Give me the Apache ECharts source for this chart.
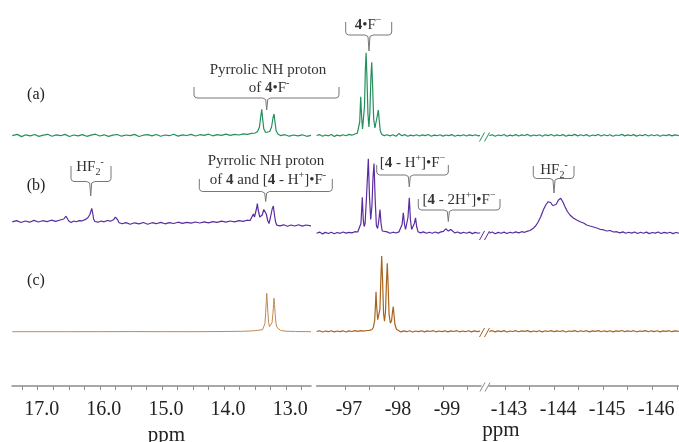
<!DOCTYPE html>
<html>
<head>
<meta charset="utf-8">
<script src="https://cdn.jsdelivr.net/npm/echarts@6/dist/echarts.min.js"></script>
<style>
html, body { margin: 0; padding: 0; background: #fff; }
#chart { width: 679px; height: 442px; }
</style>
</head>
<body>
<div id="chart"></div>
<script>
// axis ticks and labels (ppm)
var leftTicks = [17.25, 17, 16.75, 16.5, 16.25, 16, 15.75, 15.5, 15.25, 15, 14.75, 14.5, 14.25, 14, 13.75, 13.5, 13.25, 13, 12.75];
var leftLabels = [17, 16, 15, 14, 13];
var midTicks = [-97, -97.5, -98, -98.5, -99, -99.5];
var midLabels = [-97, -98, -99];
var rightTicks = [-143, -143.5, -144, -144.5, -145, -145.5, -146, -146.5];
var rightLabels = [-143, -144, -145, -146];

// spectrum (a) : [ppm, intensity above its baseline]
var specA_1H = [[17.41,0.4],[17.33,1.6],[17.26,-0.6],[17.19,1.2],[17.12,0.1],[17.05,1.5],[16.98,-0.4],[16.91,0.9],[16.84,1.7],[16.77,-0.2],[16.70,1.1],[16.63,0.3],[16.56,1.6],[16.49,-0.5],[16.42,1.0],[16.35,0.2],[16.28,1.4],[16.21,-0.3],[16.14,0.8],[16.07,1.8],[16.00,0.0],[15.93,1.2],[15.86,-0.4],[15.79,0.9],[15.72,1.5],[15.65,-0.2],[15.58,1.0],[15.51,0.4],[15.44,1.6],[15.37,-0.5],[15.30,0.8],[15.23,1.3],[15.16,0.1],[15.09,1.5],[15.02,-0.3],[14.95,1.0],[14.88,0.3],[14.81,1.7],[14.74,-0.1],[14.67,1.1],[14.60,0.5],[14.53,1.6],[14.46,0.0],[14.39,1.3],[14.32,0.6],[14.25,1.8],[14.18,0.2],[14.11,1.4],[14.04,0.7],[13.97,1.9],[13.90,0.6],[13.83,1.6],[13.76,1.0],[13.69,2.1],[13.62,1.6],[13.56,2.6],[13.50,3.0],[13.46,4.5],[13.43,9],[13.41,19],[13.393,26.7],[13.378,17],[13.36,7],[13.33,3.5],[13.30,3],[13.265,4.5],[13.235,9],[13.212,18],[13.195,22],[13.178,13],[13.16,5],[13.13,1.8],[13.09,0.4],[13.02,1.3],[12.95,-0.2],[12.88,1.0],[12.81,0.2],[12.74,1.2],[12.67,-0.3],[12.60,0.6]];
var specA_F1 = [[-96.42,0.5],[-96.48,1.4],[-96.54,-0.3],[-96.60,1.0],[-96.66,0.2],[-96.72,1.5],[-96.78,-0.4],[-96.84,0.9],[-96.90,0.1],[-96.96,1.3],[-97.02,0.3],[-97.08,1.6],[-97.14,0.8],[-97.20,2.0],[-97.25,2.6],[-97.28,4],[-97.30,14],[-97.32,39.3],[-97.338,20],[-97.358,7],[-97.378,8],[-97.398,30],[-97.415,66],[-97.43,83.3],[-97.447,60],[-97.468,22],[-97.488,9],[-97.508,24],[-97.528,58],[-97.545,73.7],[-97.562,52],[-97.585,17],[-97.61,8],[-97.638,10],[-97.662,21],[-97.68,26],[-97.698,16],[-97.72,5],[-97.75,1.5],[-97.80,0.4],[-97.86,1.3],[-97.92,0.1],[-97.98,1.2],[-98.04,-0.2],[-98.10,2.4],[-98.16,0.3],[-98.22,1.4],[-98.28,-0.3],[-98.34,0.9],[-98.40,0.2],[-98.46,1.3],[-98.52,0.0],[-98.58,1.1],[-98.64,0.4],[-98.70,1.5],[-98.76,-0.2],[-98.82,0.9],[-98.88,0.3],[-98.94,1.2],[-99.00,-0.1],[-99.06,1.0],[-99.12,0.4],[-99.18,1.4],[-99.24,-0.3],[-99.30,0.8],[-99.36,0.2],[-99.42,1.3],[-99.48,0.0],[-99.54,1.1],[-99.60,0.3],[-99.66,1.2],[-99.72,0.1],[-99.755,0.6]];
var specA_F2 = [[-142.68,0.4],[-142.74,1.3],[-142.80,-0.2],[-142.86,1.0],[-142.92,0.3],[-142.98,1.5],[-143.04,-0.3],[-143.10,0.9],[-143.16,0.2],[-143.22,1.4],[-143.28,0.0],[-143.34,1.1],[-143.40,0.5],[-143.46,1.6],[-143.52,-0.1],[-143.58,1.0],[-143.64,0.3],[-143.70,1.3],[-143.76,-0.2],[-143.82,1.2],[-143.88,0.4],[-143.94,1.5],[-144.00,0.0],[-144.06,1.1],[-144.12,0.2],[-144.18,1.4],[-144.24,-0.3],[-144.30,0.9],[-144.36,0.4],[-144.42,1.6],[-144.48,0.1],[-144.54,1.2],[-144.60,0.3],[-144.66,1.4],[-144.72,-0.2],[-144.78,1.0],[-144.84,0.4],[-144.90,1.5],[-144.96,0.0],[-145.02,1.2],[-145.08,0.2],[-145.14,1.3],[-145.20,-0.2],[-145.26,1.0],[-145.32,0.5],[-145.38,1.6],[-145.44,0.1],[-145.50,1.1],[-145.56,0.3],[-145.62,1.4],[-145.68,-0.1],[-145.74,1.0],[-145.80,0.4],[-145.86,1.5],[-145.92,0.0],[-145.98,1.2],[-146.04,0.2],[-146.10,1.3],[-146.16,-0.2],[-146.22,1.0],[-146.28,0.4],[-146.34,1.4],[-146.40,0.1],[-146.46,1.1],[-146.54,0.4]];

// spectrum (b)
var specB_1H = [[17.41,2.2],[17.34,3.4],[17.27,1.5],[17.20,3.0],[17.13,1.8],[17.06,3.6],[16.99,2.0],[16.92,3.3],[16.85,2.4],[16.78,3.8],[16.71,2.6],[16.64,4.0],[16.58,5.0],[16.545,7.8],[16.525,6.5],[16.50,3.0],[16.46,1.6],[16.42,3.0],[16.38,2.2],[16.33,3.4],[16.28,3.2],[16.23,4.6],[16.19,6.5],[16.16,9.5],[16.14,13.5],[16.13,15.7],[16.115,11],[16.10,5],[16.08,2.5],[16.03,1.8],[15.98,3.0],[15.93,2.2],[15.88,3.5],[15.83,2.8],[15.78,4.2],[15.75,6.8],[15.735,8],[15.715,4.5],[15.69,1.2],[15.64,0.2],[15.58,1.4],[15.51,-0.3],[15.44,1.2],[15.37,0.1],[15.30,1.5],[15.23,-0.2],[15.16,1.3],[15.09,0.3],[15.02,1.6],[14.95,0.2],[14.88,1.4],[14.81,0.5],[14.74,1.8],[14.67,0.6],[14.60,1.6],[14.53,0.8],[14.46,2.0],[14.39,1.0],[14.32,2.2],[14.25,1.2],[14.18,2.4],[14.11,1.6],[14.04,2.8],[13.97,1.9],[13.90,3.0],[13.83,2.2],[13.76,3.4],[13.69,2.6],[13.63,3.8],[13.58,3.5],[13.55,5],[13.528,10],[13.51,7],[13.49,9],[13.475,16],[13.464,20.3],[13.45,14],[13.425,7],[13.404,6],[13.385,9],[13.36,14.5],[13.34,16.3],[13.32,10],[13.295,3],[13.276,0.5],[13.255,6],[13.225,15],[13.206,18],[13.188,9],[13.17,2],[13.15,-1.2],[13.10,-1.8],[13.04,-0.8],[12.98,-2.2],[12.92,-1.0],[12.86,-2.0],[12.80,-0.7],[12.74,-2.1],[12.68,-1.0],[12.60,-1.8]];
var specB_F1 = [[-96.42,0.3],[-96.48,1.4],[-96.54,-0.4],[-96.60,1.1],[-96.66,0.0],[-96.72,1.3],[-96.78,-0.2],[-96.84,1.0],[-96.90,0.2],[-96.96,1.5],[-97.02,0.4],[-97.08,1.2],[-97.14,0.6],[-97.20,1.8],[-97.26,1.5],[-97.30,3],[-97.325,10],[-97.353,36.3],[-97.372,14],[-97.39,7],[-97.41,10],[-97.44,38],[-97.476,74.7],[-97.50,36],[-97.525,14],[-97.55,28],[-97.57,55],[-97.592,70],[-97.615,35],[-97.64,8],[-97.665,5],[-97.69,13],[-97.714,24],[-97.735,10],[-97.76,2.5],[-97.80,0.6],[-97.86,1.6],[-97.92,0.2],[-97.98,1.3],[-98.04,0.5],[-98.10,1.6],[-98.14,3],[-98.165,9],[-98.19,20.7],[-98.212,10],[-98.235,4],[-98.26,5],[-98.285,16],[-98.312,35.7],[-98.335,14],[-98.36,4],[-98.39,4],[-98.415,10],[-98.44,15.7],[-98.462,7],[-98.49,1.8],[-98.54,0.6],[-98.60,1.6],[-98.66,0.2],[-98.72,1.3],[-98.78,0.3],[-98.84,1.5],[-98.90,0.4],[-98.96,1.6],[-99.01,2.2],[-99.035,3.5],[-99.055,4.7],[-99.08,2.8],[-99.11,2.4],[-99.135,3.4],[-99.16,4],[-99.19,2.0],[-99.24,0.6],[-99.30,1.5],[-99.36,0.1],[-99.42,1.2],[-99.48,0.3],[-99.54,1.4],[-99.60,-0.1],[-99.66,1.1],[-99.72,0.2],[-99.76,0.8]];
var specB_F2 = [[-142.68,0.4],[-142.74,1.5],[-142.80,-0.3],[-142.86,1.1],[-142.92,0.2],[-142.98,1.4],[-143.04,0.0],[-143.10,1.2],[-143.16,0.5],[-143.22,1.6],[-143.28,0.6],[-143.34,1.8],[-143.40,1.2],[-143.46,2.4],[-143.51,3.0],[-143.576,5.2],[-143.63,8],[-143.678,11.8],[-143.73,17],[-143.78,23.5],[-143.83,28.5],[-143.88,31.8],[-143.93,31],[-143.97,28],[-144.0,26.8],[-144.04,29],[-144.09,33.5],[-144.134,35.2],[-144.18,31.5],[-144.222,26.8],[-144.27,22],[-144.324,18.5],[-144.39,15.5],[-144.46,13.5],[-144.53,11.8],[-144.60,10.5],[-144.664,8.5],[-144.73,7.5],[-144.80,6.5],[-144.87,5.5],[-144.935,4.2],[-145.00,3.8],[-145.07,2.5],[-145.14,3.0],[-145.21,1.5],[-145.275,1.8],[-145.34,0.6],[-145.40,1.6],[-145.46,0.2],[-145.52,1.3],[-145.58,0.4],[-145.64,1.5],[-145.70,0.0],[-145.76,1.2],[-145.82,0.3],[-145.88,1.4],[-145.94,-0.1],[-146.00,1.0],[-146.06,0.4],[-146.12,1.5],[-146.18,0.0],[-146.24,1.1],[-146.30,0.3],[-146.36,1.3],[-146.42,-0.1],[-146.48,1.0],[-146.54,0.3]];

// spectrum (c)
var specC_1H = [[17.41,0],[16.5,0],[15.5,0.1],[14.5,0],[14.0,0.2],[13.7,0.4],[13.55,0.8],[13.45,1.4],[13.38,2],[13.355,4],[13.342,8],[13.33,19],[13.32,30],[13.312,38.4],[13.304,30],[13.294,19],[13.282,9],[13.268,5],[13.2535,3],[13.24,5],[13.227,9],[13.213,18],[13.203,27],[13.195,33.4],[13.187,27],[13.177,18],[13.165,9],[13.15,4.5],[13.13,2.5],[13.09,1.2],[13.0,0.5],[12.85,0.2],[12.6,0]];
var specC_F1 = [[-96.42,0.2],[-96.48,0.9],[-96.54,-0.3],[-96.60,0.7],[-96.66,0.0],[-96.72,1.0],[-96.78,-0.2],[-96.84,0.7],[-96.90,0.1],[-96.96,0.9],[-97.02,-0.3],[-97.08,0.8],[-97.14,0.2],[-97.20,1.0],[-97.26,0.3],[-97.32,1.0],[-97.38,0.5],[-97.44,1.2],[-97.50,1.3],[-97.55,2.2],[-97.58,4.5],[-97.605,11],[-97.62,25],[-97.633,40],[-97.647,25],[-97.667,12],[-97.69,10],[-97.712,22],[-97.733,55],[-97.749,75.7],[-97.765,54],[-97.787,18],[-97.806,10.5],[-97.826,20],[-97.847,50],[-97.863,68.4],[-97.879,48],[-97.9,17],[-97.925,8.5],[-97.95,11],[-97.972,21],[-97.986,25],[-98.0,17],[-98.02,7],[-98.05,2.4],[-98.09,0.6],[-98.14,-0.2],[-98.20,0.8],[-98.26,0.0],[-98.32,0.9],[-98.38,-0.3],[-98.44,0.7],[-98.50,0.1],[-98.56,0.9],[-98.62,-0.2],[-98.68,0.8],[-98.74,0.2],[-98.80,1.0],[-98.86,-0.1],[-98.92,0.7],[-98.98,0.1],[-99.04,0.9],[-99.10,-0.2],[-99.16,0.8],[-99.22,0.2],[-99.28,1.0],[-99.34,-0.1],[-99.40,0.7],[-99.46,0.0],[-99.52,0.9],[-99.58,-0.2],[-99.64,0.8],[-99.70,0.1],[-99.755,0.6]];
var specC_F2 = [[-142.68,0.3],[-142.74,1.0],[-142.80,-0.2],[-142.86,0.8],[-142.92,0.1],[-142.98,1.1],[-143.04,-0.3],[-143.10,0.7],[-143.16,0.2],[-143.22,1.0],[-143.28,-0.1],[-143.34,0.8],[-143.40,0.3],[-143.46,1.1],[-143.52,-0.2],[-143.58,0.7],[-143.64,0.1],[-143.70,1.0],[-143.76,-0.2],[-143.82,0.9],[-143.88,0.2],[-143.94,1.1],[-144.00,0.0],[-144.06,0.8],[-144.12,0.2],[-144.18,1.0],[-144.24,-0.3],[-144.30,0.7],[-144.36,0.3],[-144.42,1.1],[-144.48,0.0],[-144.54,0.9],[-144.60,0.2],[-144.66,1.0],[-144.72,-0.2],[-144.78,0.8],[-144.84,0.3],[-144.90,1.1],[-144.96,0.0],[-145.02,0.9],[-145.08,0.1],[-145.14,1.0],[-145.20,-0.2],[-145.26,0.8],[-145.32,0.4],[-145.38,1.2],[-145.44,0.0],[-145.50,0.8],[-145.56,0.2],[-145.62,1.0],[-145.68,-0.1],[-145.74,0.7],[-145.80,0.3],[-145.86,1.1],[-145.92,0.0],[-145.98,0.9],[-146.04,0.1],[-146.10,1.0],[-146.16,-0.2],[-146.22,0.8],[-146.28,0.3],[-146.34,1.0],[-146.40,0.0],[-146.46,0.8],[-146.54,0.3]];

// vertical offsets of the stacked traces
var baseA = 250, baseB1 = 162, baseB2 = 152.5, baseC = 54.3;

var serif = 'Liberation Serif';
var axisGray = '#8c8c8c';

function xAxisOf(idx, min, max, ticks, labels, fmt) {
    return {
        type: 'value', gridIndex: idx, inverse: true, min: min, max: max,
        axisLine: { show: true, onZero: false, lineStyle: { color: axisGray, width: 1.5 } },
        axisTick: { show: true, customValues: ticks, length: 4, lineStyle: { color: axisGray, width: 1 } },
        axisLabel: {
            customValues: labels, formatter: fmt, margin: 14,
            fontFamily: serif, fontSize: 20, color: '#222', padding: [0, 0, 0, 8]
        },
        splitLine: { show: false }
    };
}

function trace(data, idx, base, color, width) {
    return {
        type: 'line', xAxisIndex: idx, yAxisIndex: idx, symbol: 'none',
        lineStyle: { color: color, width: width || 1.2 },
        data: data.map(function (p) { return [p[0], base + p[1]]; })
    };
}

var green = '#23905c', purple = '#5a2ca0', tan = '#bf8a55', brown = '#a8641e';

var xAxes = [
    xAxisOf(0, 12.60, 17.414, leftTicks, leftLabels, function (v) { return v.toFixed(1); }),
    xAxisOf(1, -99.776, -96.422, midTicks, midLabels, function (v) { return String(v); }),
    xAxisOf(2, -146.544, -142.674, rightTicks, rightLabels, function (v) { return String(v); })
];
xAxes[0].name = 'ppm';
xAxes[0].nameLocation = 'middle';
xAxes[0].nameGap = 29;
xAxes[0].nameTextStyle = { fontFamily: serif, fontSize: 21, color: '#222', padding: [0, 0, 0, 10] };

var yAxes = [0, 1, 2].map(function (i) {
    return { type: 'value', gridIndex: i, min: 0, max: 386, show: false };
});

// annotation helpers
var rich = {
    n: { fontFamily: serif, fontSize: 15, color: '#333', lineHeight: 20 },
    b: { fontFamily: serif, fontSize: 15, color: '#333', fontWeight: 'bold', lineHeight: 20 },
    sup: { fontFamily: serif, fontSize: 10, color: '#333', verticalAlign: 'top', lineHeight: 10 },
    sub: { fontFamily: serif, fontSize: 10, color: '#333', verticalAlign: 'bottom', lineHeight: 10 }
};

function label(txt, x, y) {
    return {
        type: 'text', silent: true,
        style: { text: txt, x: x, y: y, rich: rich, align: 'center', verticalAlign: 'middle',
                 textAlign: 'center', textVerticalAlign: 'middle', font: '15px ' + serif, fill: '#333' }
    };
}

function bracket(x1, x2, xc, yTop, yBot, ySpike) {
    var pts = [
        [x1, yTop], [x1, yBot - 3], [x1 + 0.8, yBot - 1], [x1 + 3, yBot],
        [xc - 4, yBot], [xc - 1, yBot + 1.5], [xc, ySpike], [xc + 1, yBot + 1.5], [xc + 4, yBot],
        [x2 - 3, yBot], [x2 - 0.8, yBot - 1], [x2, yBot - 3], [x2, yTop]
    ];
    return { type: 'polyline', silent: true, shape: { points: pts },
             style: { fill: null, stroke: '#777', lineWidth: 1 } };
}

function breakMark(x, yc, color) {
    return [0, 5].map(function (dx) {
        return { type: 'line', silent: true,
                 shape: { x1: x + dx, y1: yc + 4.5, x2: x + dx + 5, y2: yc - 4.5 },
                 style: { stroke: color, lineWidth: 1 } };
    });
}

function panelTag(txt, x, y) {
    return { type: 'text', silent: true,
             style: { text: txt, x: x, y: y, align: 'center', verticalAlign: 'middle',
                      textAlign: 'center', textVerticalAlign: 'middle', font: '16px ' + serif, fill: '#222' } };
}

var graphics = [
    panelTag('(a)', 36, 95), panelTag('(b)', 36, 186), panelTag('(c)', 36, 281),
    bracket(194, 339, 266.7, 87, 98, 110),
    label('{n|Pyrrolic NH proton}', 268, 70),
    label('{n|of }{b|4}{n|•F}{sup|-}', 269, 88),
    bracket(345.7, 391.7, 369, 22, 35, 51),
    label('{b|4}{n|•F}{sup|−}', 368, 25),
    bracket(71, 111, 90.7, 166, 181.5, 196),
    label('{n|HF}{sub|2}{sup|-}', 90, 167),
    bracket(199.3, 332.3, 265.7, 179, 191.5, 201.5),
    label('{n|Pyrrolic NH proton}', 266, 161.5),
    label('{n|of }{b|4}{n| and [}{b|4}{n| - H}{sup|+}{n|]•F}{sup|-}', 268, 180),
    bracket(376.7, 448.3, 409.3, 165, 175, 187),
    label('{n|[}{b|4}{n| - H}{sup|+}{n|]•F}{sup|−}', 412.5, 163),
    bracket(418.3, 500, 448.3, 199, 210, 221.5),
    label('{n|[}{b|4}{n| - 2H}{sup|+}{n|]•F}{sup|−}', 459, 200),
    bracket(533.3, 574, 554, 166, 178.5, 193),
    label('{n|HF}{sub|2}{sup|-}', 554, 170),
    { type: 'text', silent: true,
      style: { text: 'ppm', x: 501, y: 430, align: 'center', verticalAlign: 'middle',
               textAlign: 'center', textVerticalAlign: 'middle', font: '21px ' + serif, fill: '#222' } }
].concat(breakMark(480, 387, axisGray), breakMark(479.5, 137, green),
         breakMark(479.5, 235.5, purple), breakMark(479.5, 332.5, brown));

var chart = echarts.init(document.getElementById('chart'));
chart.setOption({
    animation: false,
    backgroundColor: '#fff',
    grid: [
        { left: 12, top: 0, width: 299, height: 386, outerBoundsMode: 'none' },
        { left: 316.7, top: 0, width: 164.3, height: 386, outerBoundsMode: 'none' },
        { left: 489, top: 0, width: 190, height: 386, outerBoundsMode: 'none' }
    ],
    xAxis: xAxes,
    yAxis: yAxes,
    series: [
        trace(specA_1H, 0, baseA, green),
        trace(specA_F1, 1, baseA, green),
        trace(specA_F2, 2, baseA, green),
        trace(specB_1H, 0, baseB1, purple),
        trace(specB_F1, 1, baseB2, purple),
        trace(specB_F2, 2, baseB2, purple),
        trace(specC_1H, 0, baseC, tan, 1),
        trace(specC_F1, 1, baseC, brown),
        trace(specC_F2, 2, baseC, brown)
    ],
    graphic: { elements: graphics }
});
</script>
</body>
</html>
